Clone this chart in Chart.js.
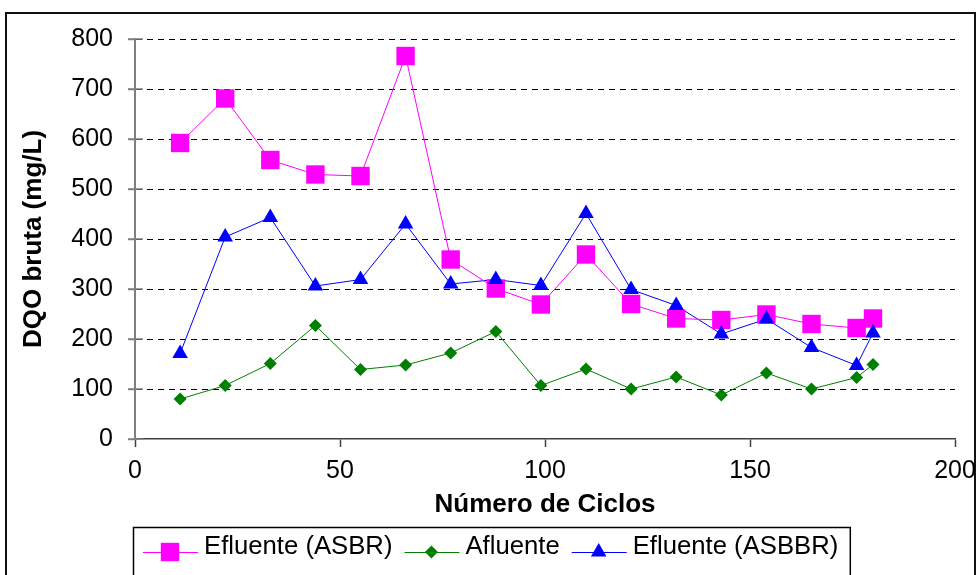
<!DOCTYPE html>
<html>
<head>
<meta charset="utf-8">
<script src="https://cdn.jsdelivr.net/npm/chart.js@4.4.0/dist/chart.umd.min.js"></script>
<style>
  html, body { margin: 0; padding: 0; background: #fff; }
  #wrap { width: 977px; height: 575px; position: relative; }
</style>
</head>
<body>
<div id="wrap"><canvas id="c" width="977" height="575"></canvas></div>
<script>
// Número de ciclos (eixo x)
const cycles = [11, 22, 33, 44, 55, 66, 77, 88, 99, 110, 121, 132, 143, 154, 165, 176, 180];
// DQO bruta (mg/L)
const efluenteASBR  = [592, 681, 558, 529, 526, 766, 359, 301, 269, 369, 270, 241, 238, 249, 230, 222, 241];
const afluente      = [80, 107, 151, 227, 139, 148, 172, 215, 107, 140, 100, 124, 88, 132, 100, 123, 149];
const efluenteASBBR = [171, 404, 443, 306, 319, 430, 310, 319, 307, 451, 299, 267, 210, 240, 183, 147, 212];
const seriesNames = ['Efluente (ASBR)', 'Afluente', 'Efluente (ASBBR)'];
const xTickValues = [0, 50, 100, 150, 200];
const yTickValues = [0, 100, 200, 300, 400, 500, 600, 700, 800];

const FONT = '"Liberation Sans", Arial, sans-serif';

const toPoints = vals => vals.map((v, i) => ({ x: cycles[i], y: v }));

// Marker shapes shared by the plot and the legend
function drawMarker(ctx, style, r, x, y) {
  ctx.beginPath();
  if (style === 'rect') {
    const s = Math.SQRT1_2 * r;
    ctx.rect(x - s, y - s, 2 * s, 2 * s);
  } else if (style === 'rectRot') {
    ctx.moveTo(x, y - r); ctx.lineTo(x + r, y); ctx.lineTo(x, y + r); ctx.lineTo(x - r, y);
    ctx.closePath();
  } else if (style === 'triangle') {
    const w = r * Math.sqrt(3) / 2;
    ctx.moveTo(x, y - r); ctx.lineTo(x + w, y + r / 2); ctx.lineTo(x - w, y + r / 2);
    ctx.closePath();
  }
  ctx.fill();
}

const frameAndLegend = {
  id: 'frameAndLegend',
  beforeDraw(chart) {
    const ctx = chart.ctx;
    ctx.save();
    ctx.fillStyle = '#fff';
    ctx.fillRect(0, 0, chart.width, chart.height);
    ctx.strokeStyle = '#111';
    ctx.lineWidth = 2;
    ctx.strokeRect(6, 13, 969, 600);
    ctx.restore();
  },
  afterDraw(chart) {
    const ctx = chart.ctx;
    ctx.save();
    // y tick marks crossing the value axis
    const ys = chart.scales.y;
    ctx.strokeStyle = '#808080';
    ctx.lineWidth = 1.5;
    yTickValues.forEach(v => {
      const py = Math.round(ys.getPixelForValue(v));
      ctx.beginPath();
      ctx.moveTo(ys.right - 7, py);
      ctx.lineTo(ys.right + 8, py);
      ctx.stroke();
    });

    // legend
    ctx.font = '25.7px ' + FONT;
    ctx.textBaseline = 'middle';
    ctx.textAlign = 'left';
    const cy = 552;
    let x = 143;
    chart.data.datasets.forEach(ds => {
      ctx.strokeStyle = ds.borderColor;
      ctx.lineWidth = 1;
      ctx.beginPath();
      ctx.moveTo(x, cy + 0.5);
      ctx.lineTo(x + 55, cy + 0.5);
      ctx.stroke();
      ctx.fillStyle = ds.backgroundColor;
      drawMarker(ctx, ds.pointStyle, ds.pointRadius, x + 27, cy);
      ctx.fillStyle = '#000';
      ctx.fillText(ds.label, x + 61, cy - 5);
      x += 61 + ctx.measureText(ds.label).width + 12;
    });
    ctx.strokeStyle = '#000';
    ctx.lineWidth = 1.5;
    ctx.strokeRect(133.5, 527.5, x - 133.5, 60);
    ctx.restore();
  }
};

// Custom point drawing so markers keep exact shapes
const markerPlugin = {
  id: 'markers',
  afterDatasetsDraw(chart) {
    const ctx = chart.ctx;
    ctx.save();
    chart.data.datasets.forEach((ds, i) => {
      const meta = chart.getDatasetMeta(i);
      ctx.fillStyle = ds.backgroundColor;
      meta.data.forEach(pt => drawMarker(ctx, ds.pointStyle, ds.pointRadius, pt.x, pt.y));
    });
    ctx.restore();
  }
};

new Chart(document.getElementById('c'), {
  type: 'line',
  data: {
    datasets: [
      { label: seriesNames[0], data: toPoints(efluenteASBR), borderColor: '#FF00FF', backgroundColor: '#FF00FF',
        borderWidth: 1, pointStyle: 'rect', pointRadius: 13, showLine: true },
      { label: seriesNames[1], data: toPoints(afluente), borderColor: '#008000', backgroundColor: '#008000',
        borderWidth: 1, pointStyle: 'rectRot', pointRadius: 6.5, showLine: true },
      { label: seriesNames[2], data: toPoints(efluenteASBBR), borderColor: '#0000FF', backgroundColor: '#0000FF',
        borderWidth: 1, pointStyle: 'triangle', pointRadius: 9, showLine: true }
    ].map(d => Object.assign(d, { tension: 0, fill: false, clip: false, pointHoverRadius: d.pointRadius,
        pointBorderWidth: 0, pointBackgroundColor: 'rgba(0,0,0,0)' }))
  },
  options: {
    responsive: false,
    animation: false,
    devicePixelRatio: 1,
    events: [],
    layout: { padding: { left: 0, top: 39, right: 22, bottom: 0 } },
    plugins: { legend: { display: false }, tooltip: { enabled: false }, title: { display: false } },
    scales: {
      x: {
        type: 'linear', min: 0, max: 200,
        afterBuildTicks: s => { s.ticks = xTickValues.map(v => ({ value: v })); },
        afterFit: s => { s.height = 136; s.paddingLeft = 0; s.paddingRight = 0; },
        ticks: { color: '#000', font: { family: FONT, size: 25 }, padding: 9, maxRotation: 0 },
        grid: { drawOnChartArea: false, drawTicks: true, tickLength: 8, tickColor: '#404040', tickWidth: 1.5 },
        border: { color: '#404040', width: 1.5 },
        title: { display: true, text: 'Número de Ciclos', color: '#000',
                 font: { family: FONT, size: 26, weight: 'bold' }, padding: { top: 0, bottom: 55 } }
      },
      y: {
        type: 'linear', min: 0, max: 800,
        afterBuildTicks: s => { s.ticks = yTickValues.map(v => ({ value: v })); },
        afterFit: s => { s.width = 135; s.paddingTop = 0; s.paddingBottom = 0; },
        ticks: { color: '#000', font: { family: FONT, size: 25 }, padding: 15 },
        grid: { color: c => (c.tick && c.tick.value === 0 ? 'rgba(0,0,0,0)' : '#000'), lineWidth: 1,
                tickLength: 7, tickColor: '#808080', tickWidth: 1.5, tickBorderDash: [] },
        border: { color: '#808080', width: 2, dash: [6, 5] },
        title: { display: true, text: 'DQO bruta (mg/L)', color: '#000',
                 font: { family: FONT, size: 26, weight: 'bold' }, padding: { top: 18, bottom: 0 } }
      }
    }
  },
  plugins: [frameAndLegend, markerPlugin]
});
</script>
</body>
</html>
